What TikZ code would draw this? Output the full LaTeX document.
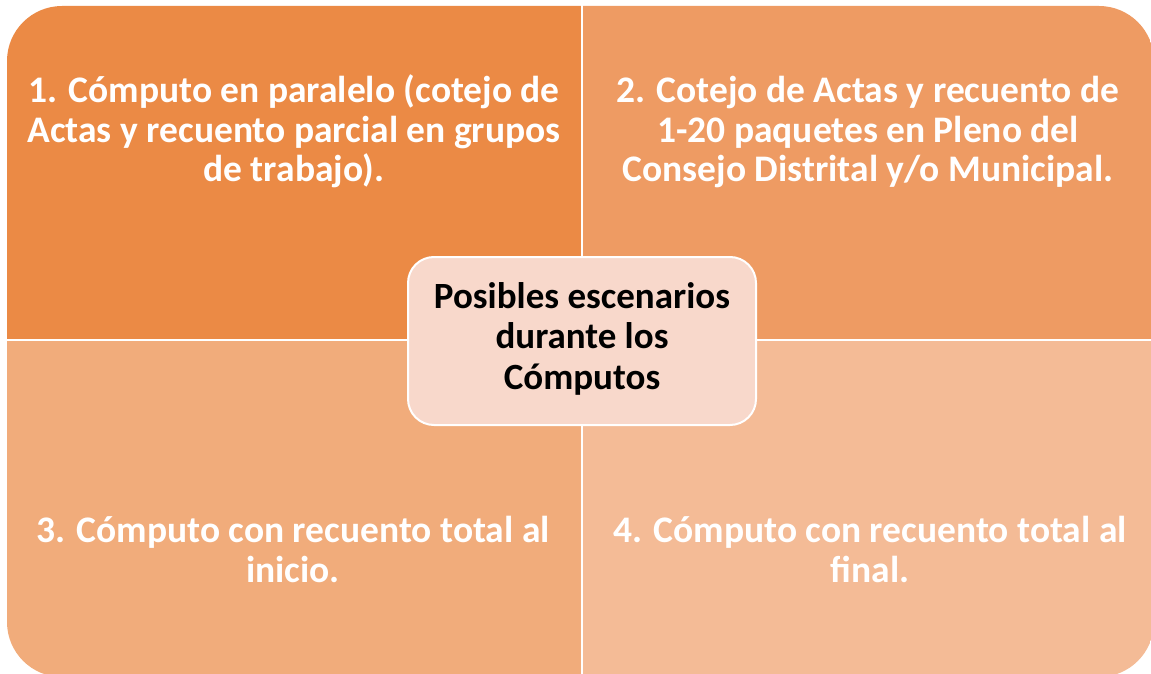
\documentclass[tikz,border=0pt]{standalone}
\usepackage{fontspec}
\setmainfont{Carlito}
\definecolor{qone}{RGB}{235,138,69}
\definecolor{qtwo}{RGB}{238,155,99}
\definecolor{qthree}{RGB}{241,172,123}
\definecolor{qfour}{RGB}{244,187,150}
\definecolor{centerfill}{RGB}{248,216,203}
\tikzset{
  qtext/.style={text=white, font=\fontsize{37.5}{39.5}\selectfont\bfseries, align=center, inner sep=0pt, anchor=base},
  ctext/.style={text=black, font=\fontsize{37}{40.5}\selectfont\bfseries, align=center, inner sep=0pt, anchor=base},
  divider/.style={white, line width=2pt}
}
\begin{document}
\begin{tikzpicture}[x=1pt,y=-1pt]
\useasboundingbox (0,0) rectangle (1151,674);
\begin{scope}
\clip[rounded corners=55pt] (7,6) rectangle (1154,677);
\fill[qone] (0,0) rectangle (582,340);
\fill[qtwo] (582,0) rectangle (1160,340);
\fill[qthree] (0,340) rectangle (582,680);
\fill[qfour] (582,340) rectangle (1160,680);
\end{scope}
\coordinate (dt) at (582,0);
\coordinate (db) at (582,674);
\coordinate (dl) at (0,340);
\coordinate (dr) at (1151,340);
\draw[divider] (dt) -- (db);
\draw[divider] (dl) -- (dr);
\node[qtext] (q1) at (294,182) {1. Cómputo en paralelo (cotejo de\\Actas y recuento parcial en grupos\\de trabajo).};
\node[qtext] (q2) at (868,182) {2. Cotejo de Actas y recuento de\\1-20 paquetes en Pleno del\\Consejo Distrital y/o Municipal.};
\node[qtext] (q3) at (293,582) {3. Cómputo con recuento total al\\inicio.};
\node[qtext] (q4) at (870,582) {4. Cómputo con recuento total al\\final.};
\node[draw=white, line width=2pt, fill=centerfill, rounded corners=26pt, minimum width=348pt, minimum height=168pt] (c) at (582,341) {};
\node[ctext] (ct) at (582,389) {Posibles escenarios\\durante los\\Cómputos};
\end{tikzpicture}
\end{document}
